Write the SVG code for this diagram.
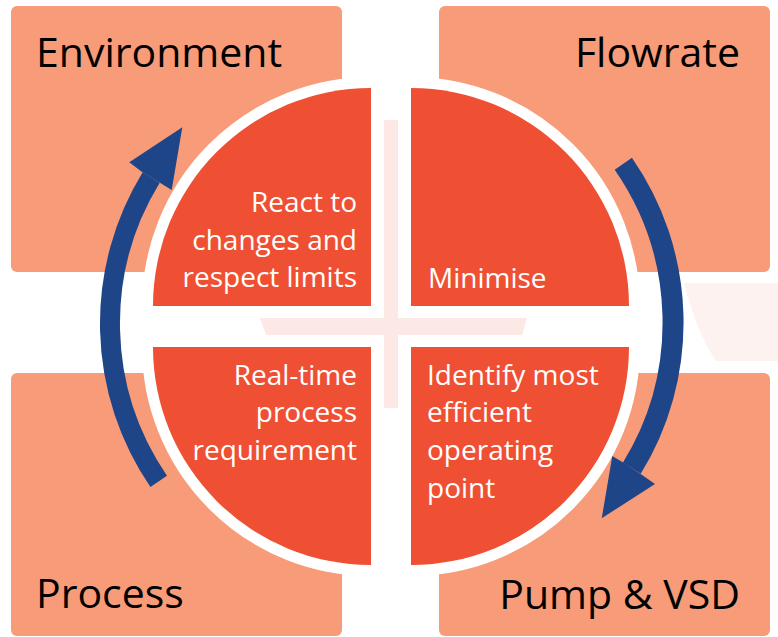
<svg xmlns="http://www.w3.org/2000/svg" width="778" height="637" viewBox="0 0 778 637">
<style>
.bg{fill:#FCE9E5}
.wm{fill:#FDF2EF}
.box{fill:#F79B78;stroke:#FFFFFF;stroke-width:22;paint-order:stroke fill}
.quad{fill:#EF4F32;stroke:#FFFFFF;stroke-width:22;stroke-linejoin:round;paint-order:stroke fill}
.arc{fill:none;stroke:#1F4589;stroke-linecap:butt}
.head{fill:#1F4589}
.lbl{font-family:"Open Sans","Noto Sans","Liberation Sans",sans-serif;font-size:41px;fill:#000000}
.in{font-family:"Open Sans","Noto Sans","Liberation Sans",sans-serif;font-size:28px;fill:#FFFFFF}
</style>
<rect x="0" y="0" width="778" height="637" fill="#FFFFFF"/>
<g id="background">
<rect class="bg" x="384" y="120" width="14" height="288"/>
<polygon class="bg" points="260,318 527,318 522,335 266,335"/>
<path class="wm" d="M684,283 Q697,333 716,361 L778,361 L778,283 Z"/>
</g>
<g id="environment">
<rect class="box" x="11" y="6" width="331" height="266" rx="6"/>
<text class="lbl" x="36" y="67">Environment</text>
</g>
<g id="flowrate">
<rect class="box" x="439" y="6" width="331" height="266" rx="6"/>
<text class="lbl" x="740" y="67" text-anchor="end">Flowrate</text>
</g>
<g id="process">
<rect class="box" x="11" y="373" width="331" height="263" rx="6"/>
<text class="lbl" x="36" y="608">Process</text>
</g>
<g id="pump-vsd">
<rect class="box" x="439" y="373" width="331" height="263" rx="6"/>
<text class="lbl" x="740" y="609" text-anchor="end">Pump &amp; VSD</text>
</g>
<g id="react">
<path class="quad" d="M371,306 L153,306 A218,218 0 0 1 371,88 Z"/>
<text class="in" text-anchor="end"><tspan x="357" y="212">React to</tspan><tspan x="357" y="250">changes and</tspan><tspan x="357" y="287">respect limits</tspan></text>
</g>
<g id="minimise">
<path class="quad" d="M411,306 L411,88 A218,218 0 0 1 629,306 Z"/>
<text class="in" x="428" y="288">Minimise</text>
</g>
<g id="realtime">
<path class="quad" d="M371,347 L371,565 A218,218 0 0 1 153,347 Z"/>
<text class="in" text-anchor="end"><tspan x="357" y="385">Real-time</tspan><tspan x="357" y="422">process</tspan><tspan x="357" y="460">requirement</tspan></text>
</g>
<g id="identify">
<path class="quad" d="M411,347 L629,347 A218,218 0 0 1 411,565 Z"/>
<text class="in"><tspan x="427" y="385">Identify most</tspan><tspan x="427" y="422">efficient</tspan><tspan x="427" y="460">operating</tspan><tspan x="427" y="498">point</tspan></text>
</g>
<g id="connectors">
<path class="arc" stroke-width="21" d="M623.3,163.7 A278.3,278.3 0 0 1 631.8,468.3"/>
<polygon class="head" points="612.3,456 622.7,462.3 641,474.3 655,484 601.7,518.3"/>
<path class="arc" stroke-width="20" d="M158.7,481.3 A279.5,279.5 0 0 1 151.2,177.5"/>
<polygon class="head" points="171.7,190 160.7,183.3 141.7,171.7 129.3,162.3 182.3,127.3"/>
</g>
</svg>
